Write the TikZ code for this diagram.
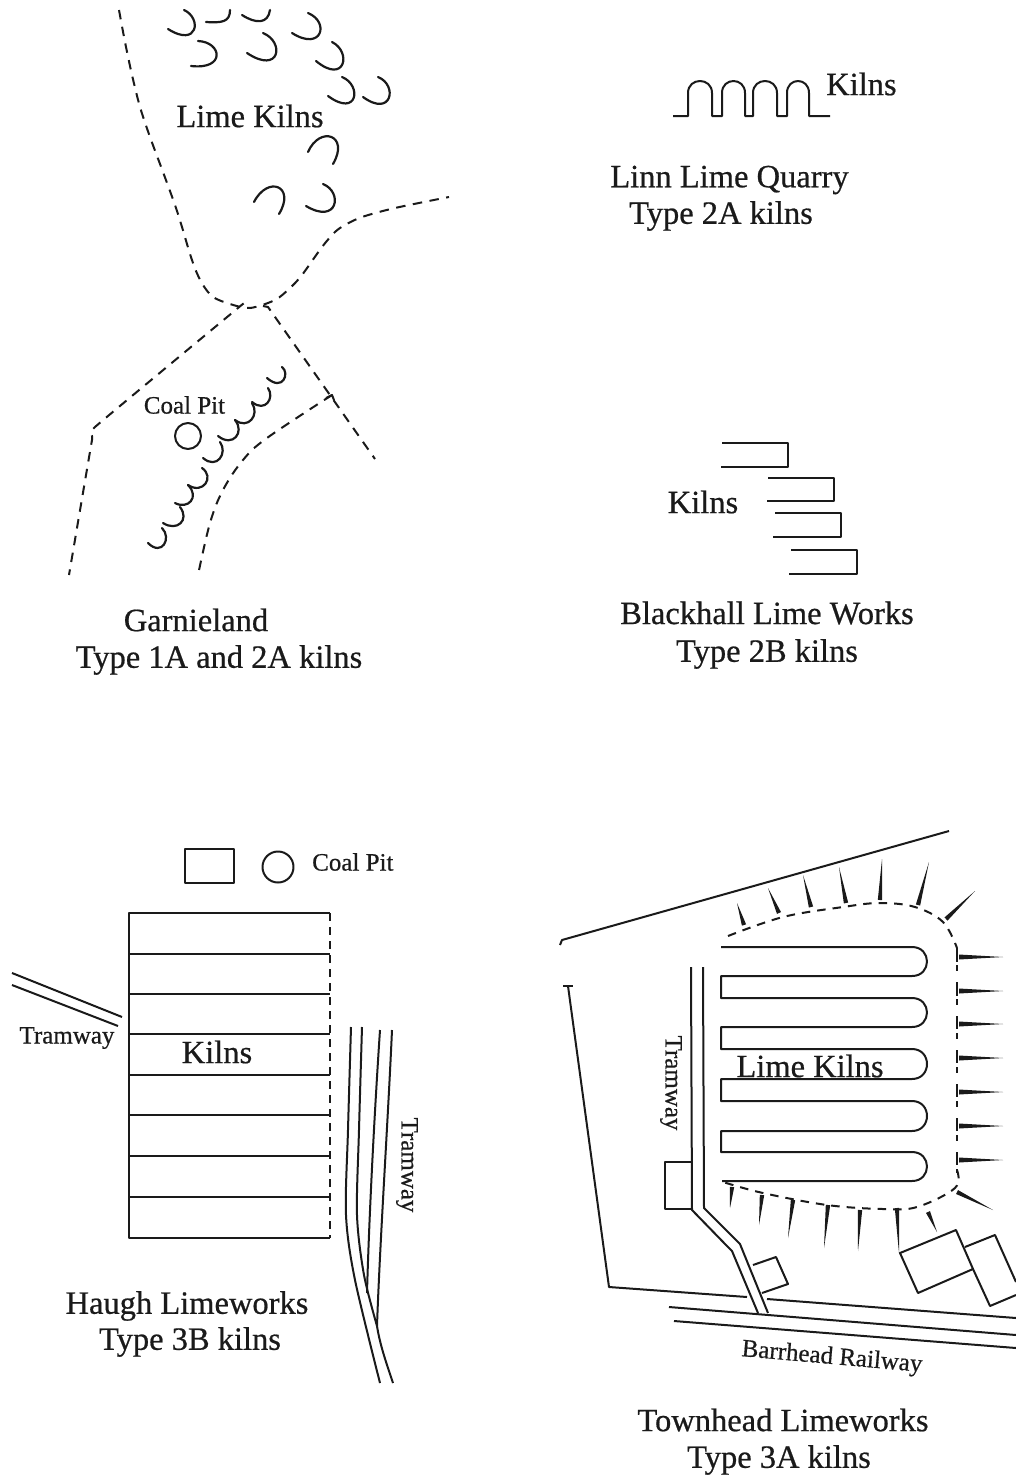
\documentclass[tikz,border=0pt]{standalone}
\usepackage{fontspec}
\setmainfont{Liberation Serif}
\newfontfamily\inkfont{Liberation Serif}[FakeBold=0.6]
\usetikzlibrary{calc}
\definecolor{ink}{HTML}{1A1A1A}
\newcommand{\bigfs}{\inkfont\fontsize{32.5}{38}\selectfont}
\newcommand{\smallfs}{\inkfont\fontsize{25}{30}\selectfont}
\tikzset{
  line/.style={draw=ink,line width=2pt,line join=round},
  kiln/.style={draw=ink,line width=2.2pt,line cap=round},
  road/.style={draw=ink,line width=2pt,dash pattern=on 9.5pt off 7.5pt},
  outline/.style={draw=ink,line width=2pt,dash pattern=on 8.5pt off 7pt},
  lab/.style={text=ink,inner sep=0pt,font=\bigfs},
  slab/.style={text=ink,inner sep=0pt,font=\smallfs},
}
\newcommand{\spike}[4]{\fill[ink] ($(#1,#2)!2.2pt!90:(#3,#4)$) -- (#3,#4) -- ($(#1,#2)!2.2pt!-90:(#3,#4)$) -- cycle;}
\newcommand{\rspike}[1]{\fill[ink] (959,#1-2.5) -- (1003,#1) -- (959,#1+2.5) -- cycle; \draw[line] (957,#1-5) -- (957,#1+5);}
\begin{document}
\begin{tikzpicture}[x=1pt,y=-1pt]
\useasboundingbox (0,0) rectangle (1016,1476);
% --- Garnieland
\draw[kiln] (184,10) .. controls (202,18) and (198,48) .. (168,29);
\draw[kiln] (206,22) .. controls (222,23) and (230,22) .. (230,10);
\draw[kiln] (242,15) .. controls (256,24) and (268,24) .. (270,10);
\draw[kiln] (308,13) .. controls (330,22) and (322,52) .. (292,33);
\draw[kiln] (198,41) .. controls (222,42) and (226,70) .. (191,66);
\draw[kiln] (263,33) .. controls (285,42) and (280,75) .. (247,53);
\draw[kiln] (332,42) .. controls (352,52) and (345,85) .. (316,61);
\draw[kiln] (342,77) .. controls (362,85) and (358,118) .. (328,96);
\draw[kiln] (378,77) .. controls (398,85) and (392,118) .. (363,97);
\draw[kiln] (308,152) .. controls (320,125) and (350,135) .. (333,164);
\draw[kiln] (254,202) .. controls (268,175) and (296,186) .. (279,214);
\draw[kiln] (323,184) .. controls (343,192) and (338,225) .. (306,206);
\draw[road] plot[smooth,tension=0.5] coordinates {(119,10) (125,42) (132,75) (140,107) (150,137) (163,172) (175,205) (182,227) (190,254) (196,271) (203,285) (213,297) (230,304) (250,308) (275,300) (290,288) (302,275) (322,247) (335,232) (345,225) (362,217) (395,208) (449,197)};
\draw[road] plot[smooth,tension=0.2] coordinates {(243,304) (238,308) (95,427) (92,440) (69,575)};
\draw[road] (263,306) -- (268,307) -- (375,459);
\draw[road] plot[smooth,tension=0.6] coordinates {(332,395) (267,438) (243,460) (223,490) (210,523) (198,575)};
\draw[line] (326,398) -- (332,395) -- (334,400);
\draw[kiln] (282,367) .. controls (290,373) and (283,392) .. (267,378);
\draw[kiln] (268,388) .. controls (275,398) and (265,413) .. (252,402);
\draw[kiln] (252,403) .. controls (260,415) and (248,430) .. (235,420);
\draw[kiln] (235,420) .. controls (245,432) and (233,448) .. (218,436);
\draw[kiln] (220,442) .. controls (228,453) and (217,470) .. (203,458);
\draw[kiln] (202,468) .. controls (215,477) and (203,495) .. (188,485);
\draw[kiln] (188,485) .. controls (200,497) and (188,510) .. (175,503);
\draw[kiln] (180,507) .. controls (190,520) and (177,532) .. (163,523);
\draw[kiln] (162,528) .. controls (172,538) and (162,557) .. (148,543);
\draw[line] (188,436) circle[radius=13];
\node[lab] (limekilnsA) at (250,116) {Lime Kilns};
\node[slab] (coalA) at (184.500,405) {Coal Pit};
\node[lab] (garnA) at (196,620) {Garnieland};
\node[lab] (garnB) at (219,660) {Type 1A and 2A kilns};
% --- Linn
\draw[line] (673,116) -- (688,116) -- (688,93) .. controls (688,77) and (712,77) .. (712,93) -- (712,116) -- (722,116) -- (722,93) .. controls (722,77) and (745,77) .. (745,93) -- (745,116) -- (753,116) -- (753,93) .. controls (753,77) and (777,77) .. (777,93) -- (777,116) -- (787,116) -- (787,93) .. controls (787,77) and (809,77) .. (809,93) -- (809,116) -- (830,116);
\node[lab,anchor=west] (kilnsL) at (826,84) {Kilns};
\node[lab] (linnA) at (729.500,180) {Linn Lime Quarry};
\node[lab] (linnB) at (721,216) {Type 2A kilns};
% --- Blackhall
\draw[line] (722,443) -- (788,443) -- (788,467) -- (721,467);
\draw[line] (768,478) -- (834,478) -- (834,501) -- (767,501);
\draw[line] (775,513) -- (841,513) -- (841,537) -- (773,537);
\draw[line] (791,550) -- (857,550) -- (857,574) -- (789,574);
\node[lab] (kilnsB) at (703,502) {Kilns};
\node[lab] (blackA) at (767,613) {Blackhall Lime Works};
\node[lab] (blackB) at (767,654) {Type 2B kilns};
% --- Haugh
\draw[line] (185,849) rectangle (234,883);
\draw[line] (278,867) circle[radius=15.5];
\node[slab,anchor=west] (coalH) at (312,862) {Coal Pit};
\draw[line] (330,913) -- (129,913) -- (129,1238) -- (330,1238);
\foreach \yy in {954,994,1034,1075,1115,1156,1197} {\draw[line] (129,\yy) -- (330,\yy);}
\draw[draw=ink,line width=2pt,dash pattern=on 8pt off 6pt] (329.500,913) -- (329.500,1238);
\draw[line] (12,973) -- (122,1017);
\draw[line] (12,985) -- (118,1026);
\node[slab] (tramH) at (67,1038) {Tramway};
\node[lab] (kilnsH) at (217,1052) {Kilns};
\draw[line] plot[smooth,tension=0.5] coordinates {(351,1027) (348,1130) (346,1215) (355,1280) (380,1383)};
\draw[line] plot[smooth,tension=0.5] coordinates {(362,1027) (359,1130) (357,1215) (364,1275) (377,1326)};
\draw[line] (380,1030) .. controls (374,1120) and (369,1220) .. (367,1293);
\draw[line] (392,1030) .. controls (388,1120) and (380,1240) .. (377,1326) .. controls (380,1345) and (386,1362) .. (393,1383);
\node[slab,rotate=-90] (tramV) at (407,1165) {Tramway};
\node[lab] (haughA) at (187,1306) {Haugh Limeworks};
\node[lab] (haughB) at (190,1342) {Type 3B kilns};
% --- Townhead
\draw[line] (560,945) -- (562,940) -- (949,831);
\draw[line] (563,986) -- (573,986);
\draw[line] (568,986) -- (609,1287) -- (747,1297);
\draw[line] (767,1299) -- (1016,1318);
\draw[line] (669,1307) -- (1016,1335);
\draw[line] (674,1321) -- (1016,1348);
\draw[line] (691,967) -- (692,1210) -- (727,1246) -- (732,1251) -- (758,1313);
\draw[line] (703,967) -- (704,1208) -- (740,1244) -- (768,1313);
\draw[line] (692,1162) -- (665,1162) -- (665,1209) -- (692,1209);
\draw[line] (753,1265) -- (776,1257) -- (788,1284) -- (762,1293);
\draw[line] (900,1253) -- (956,1230) -- (973,1269) -- (918,1293) -- cycle;
\draw[line] (965,1247) -- (995,1235) -- (1016,1282);
\draw[line] (973,1269) -- (990,1306) -- (1016,1295);
\draw[line] (721,947) -- (912,947) .. controls (932,947) and (932,976) .. (912,976) -- (721,976) -- (721,998) -- (912,998) .. controls (932,998) and (932,1027) .. (912,1027) -- (721,1027) -- (721,1049) -- (912,1049) .. controls (932,1049) and (932,1079) .. (912,1079) -- (721,1079) -- (721,1101) -- (912,1101) .. controls (932,1101) and (932,1131) .. (912,1131) -- (721,1131) -- (721,1152) -- (912,1152) .. controls (932,1152) and (932,1181) .. (912,1181) -- (722,1181);
\draw[outline] plot[smooth,tension=0.6] coordinates {(728,936) (783,917) (843,907) (880,903) (915,907) (943,922) (957,948)};
\draw[draw=ink,line width=2pt,dash pattern=on 6pt off 11pt] (957,948) -- (957,1173);
\draw[outline] plot[smooth,tension=0.6] coordinates {(957,1170) (955,1188) (917,1207) (883,1209) (827,1205) (763,1193) (723,1182)};
\spike{744}{925}{737}{903}
\spike{779}{913}{768}{888}
\spike{811}{907}{803}{875}
\spike{846}{903}{839}{867}
\spike{880}{900}{882}{859}
\spike{918}{905}{929}{862}
\spike{946}{919}{975}{891}
\rspike{957}\rspike{991}\rspike{1024}\rspike{1058}\rspike{1092}\rspike{1126}\rspike{1160}
\spike{957}{1192}{993}{1210}
\spike{732}{1187}{730}{1208}
\spike{762}{1195}{759}{1225}
\spike{793}{1200}{788}{1238}
\spike{828}{1205}{824}{1248}
\spike{860}{1210}{858}{1251}
\spike{897}{1208}{899}{1253}
\spike{928}{1212}{937}{1232}
\node[lab] (kilnsT) at (810,1066) {Lime Kilns};
\node[slab,rotate=-90] (tramT) at (671,1083) {Tramway};
\node[slab,rotate=-5] (barr) at (832,1358) {Barrhead Railway};
\node[lab] (townA) at (783,1420) {Townhead Limeworks};
\node[lab] (townB) at (779,1460) {Type 3A kilns};
\end{tikzpicture}
\end{document}
